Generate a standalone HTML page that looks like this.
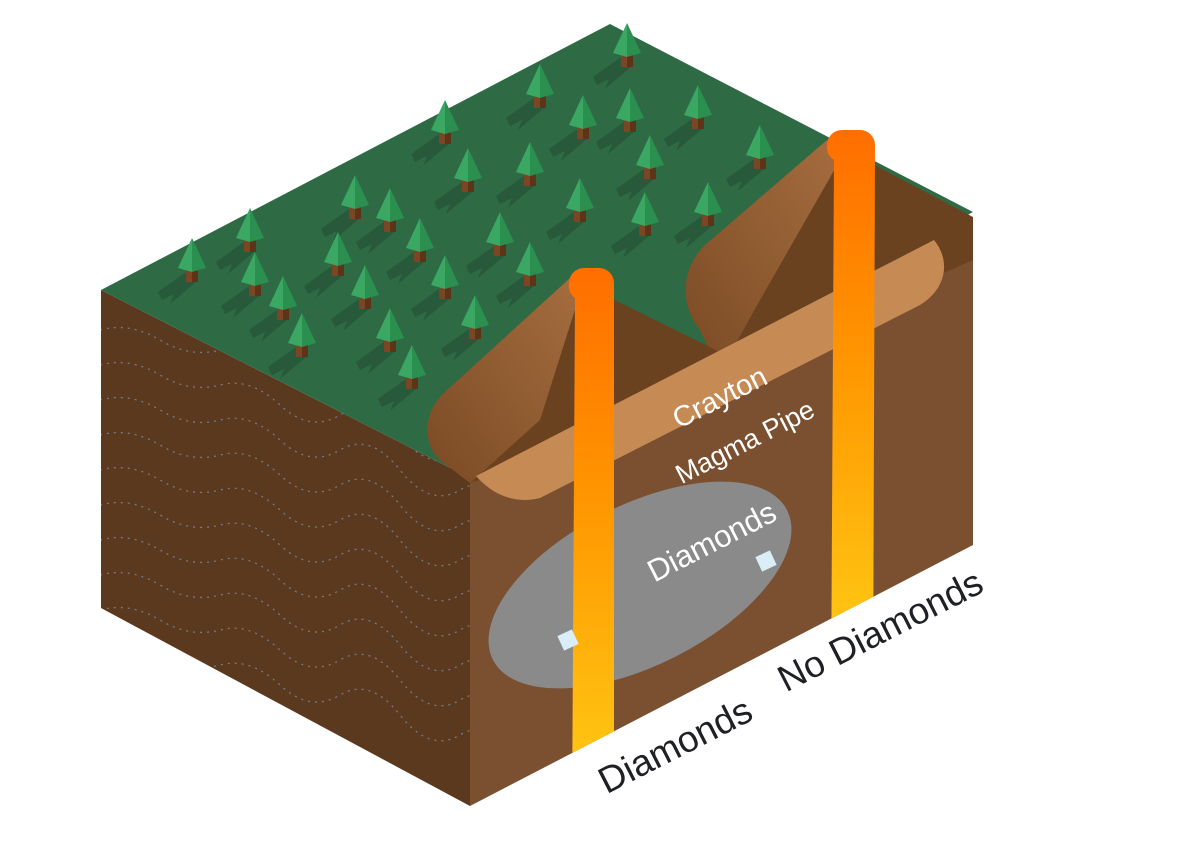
<!DOCTYPE html>
<html><head><meta charset="utf-8"><style>
html,body{margin:0;padding:0;background:#fff;width:1200px;height:853px;overflow:hidden}
svg{display:block}
text{font-family:"Liberation Sans",sans-serif}
</style></head><body>
<svg width="1200" height="853" viewBox="0 0 1200 853" xmlns="http://www.w3.org/2000/svg">
<defs>
<linearGradient id="pipeL" gradientUnits="userSpaceOnUse" x1="0" y1="268" x2="0" y2="755">
<stop offset="0" stop-color="#ff6e00"/><stop offset="0.45" stop-color="#ff9400"/><stop offset="1" stop-color="#ffc412"/>
</linearGradient>
<linearGradient id="pipeR" gradientUnits="userSpaceOnUse" x1="0" y1="130" x2="0" y2="620">
<stop offset="0" stop-color="#ff6e00"/><stop offset="0.45" stop-color="#ff9400"/><stop offset="1" stop-color="#ffc412"/>
</linearGradient>
<linearGradient id="wallL" x1="1" y1="0" x2="0" y2="1">
<stop offset="0" stop-color="#a56d3f"/><stop offset="1" stop-color="#7a4a24"/>
</linearGradient>
<clipPath id="below"><polygon points="0,0 1200,0 1200,520 973,545 470,806 0,806"/></clipPath>
<clipPath id="rface"><polygon points="470,478 973,217 973,545 470,806"/></clipPath>
<clipPath id="lface"><polygon points="101,290 470,478 470,806 101,608"/></clipPath>
<g id="tree">
<polygon points="-6,34 -34,54 -30,62 -18,56 -22,66 4,44" fill="#275839" opacity="0.9"/>
<rect x="-6" y="30" width="12" height="14" fill="#7a4624"/>
<rect x="0" y="30" width="6" height="14" fill="#5e3418"/>
<polygon points="0,0 -14,30 0,34" fill="#3aa863"/>
<polygon points="0,0 14,30 0,34" fill="#2b8f50"/>
</g>
</defs>

<!-- left face -->
<polygon points="101,290 470,478 470,806 101,608" fill="#5a391e"/>
<g clip-path="url(#lface)" fill="none" stroke="#7d8aa0" stroke-width="1.3" stroke-dasharray="2 5" opacity="0.8">
<path d="M100,330 q30,-8 60,10 t60,10 t60,20 t60,10 t60,20 t60,20 t60,20"/>
<path d="M100,365 q30,-8 60,10 t60,10 t60,20 t60,10 t60,20 t60,20 t60,20"/>
<path d="M100,400 q30,-8 60,10 t60,10 t60,20 t60,10 t60,20 t60,20 t60,20"/>
<path d="M100,435 q30,-8 60,10 t60,10 t60,20 t60,10 t60,20 t60,20 t60,20"/>
<path d="M100,470 q30,-8 60,10 t60,10 t60,20 t60,10 t60,20 t60,20 t60,20"/>
<path d="M100,505 q30,-8 60,10 t60,10 t60,20 t60,10 t60,20 t60,20 t60,20"/>
<path d="M100,540 q30,-8 60,10 t60,10 t60,20 t60,10 t60,20 t60,20 t60,20"/>
<path d="M100,575 q30,-8 60,10 t60,10 t60,20 t60,10 t60,20 t60,20 t60,20"/>
<path d="M100,610 q30,-8 60,10 t60,10 t60,20 t60,10 t60,20 t60,20 t60,20"/>
<path d="M100,645 q30,-8 60,10 t60,10 t60,20 t60,10 t60,20 t60,20 t60,20"/>
</g>

<!-- right face -->
<polygon points="470,478 973,217 973,545 470,806" fill="#7b5030"/>

<!-- top face -->
<polygon points="101,290 610,24 973,212 470,478" fill="#2e6b45"/>

<!-- right crater -->
<path d="M827,140 L973,217 L973,260 L720,372 L700,330 C680,305 680,270 705,245 Z" fill="#6b4220"/>
<path d="M827,140 L840,160 L760,300 L720,372 L700,330 C680,305 680,270 705,245 Z" fill="url(#wallL)"/>
<!-- left crater -->
<path d="M570,278 L720,352 L720,400 L470,483 L440,460 C420,440 425,410 445,392 Z" fill="#6b4220"/>
<path d="M570,278 L578,300 L540,420 L470,483 L440,460 C420,440 425,410 445,392 Z" fill="url(#wallL)"/>

<!-- tan band -->
<path d="M476,476 L934,240 C952,262 945,290 920,305 L540,498 C512,505 490,492 476,476 Z" fill="#c68a55"/>

<!-- diamonds ellipse -->
<ellipse cx="640" cy="585" rx="165" ry="80" transform="rotate(-27 640 585)" fill="#8a8a8a"/>

<!-- pipes -->
<g clip-path="url(#below)">
<path d="M569,283 a15,15 0 0 1 15,-15 h15 a15,15 0 0 1 15,15 L614,820 L572,820 L575,298 A15,15 0 0 1 569,283 Z" fill="url(#pipeL)"/>
<path d="M827,145 a15,15 0 0 1 15,-15 h18 a15,15 0 0 1 15,15 L873,700 L831,700 L834,160 A15,15 0 0 1 827,145 Z" fill="url(#pipeR)"/>
</g>

<!-- diamonds -->
<rect x="560" y="632" width="16" height="16" fill="#d9eef6" transform="rotate(-25 568 640)"/>
<rect x="758" y="553" width="16" height="16" fill="#d9eef6" transform="rotate(-25 766 561)"/>

<!-- trees -->
<use href="#tree" x="627" y="23"/>
<use href="#tree" x="540" y="64"/>
<use href="#tree" x="445" y="100"/>
<use href="#tree" x="583" y="95"/>
<use href="#tree" x="630" y="88"/>
<use href="#tree" x="698" y="85"/>
<use href="#tree" x="760" y="125"/>
<use href="#tree" x="468" y="148"/>
<use href="#tree" x="530" y="142"/>
<use href="#tree" x="650" y="135"/>
<use href="#tree" x="580" y="178"/>
<use href="#tree" x="708" y="182"/>
<use href="#tree" x="355" y="175"/>
<use href="#tree" x="390" y="188"/>
<use href="#tree" x="645" y="192"/>
<use href="#tree" x="500" y="212"/>
<use href="#tree" x="250" y="208"/>
<use href="#tree" x="420" y="218"/>
<use href="#tree" x="530" y="242"/>
<use href="#tree" x="192" y="238"/>
<use href="#tree" x="255" y="252"/>
<use href="#tree" x="338" y="232"/>
<use href="#tree" x="445" y="255"/>
<use href="#tree" x="365" y="265"/>
<use href="#tree" x="283" y="276"/>
<use href="#tree" x="475" y="295"/>
<use href="#tree" x="302" y="313"/>
<use href="#tree" x="390" y="308"/>
<use href="#tree" x="412" y="345"/>

<!-- labels -->
<text x="720" y="407" font-size="29" fill="#fff" text-anchor="middle" transform="rotate(-27 720 398)">Crayton</text>
<text x="745" y="451" font-size="27" fill="#fff" text-anchor="middle" transform="rotate(-27 745 442)">Magma Pipe</text>
<text x="712" y="552" font-size="31" fill="#fff" text-anchor="middle" transform="rotate(-27 712 542)">Diamonds</text>
<text x="675" y="758" font-size="37" fill="#1e2024" text-anchor="middle" transform="rotate(-27 675 745)">Diamonds</text>
<text x="880" y="643" font-size="37" fill="#1e2024" text-anchor="middle" transform="rotate(-27 880 630)">No Diamonds</text>
</svg>
</body></html>
